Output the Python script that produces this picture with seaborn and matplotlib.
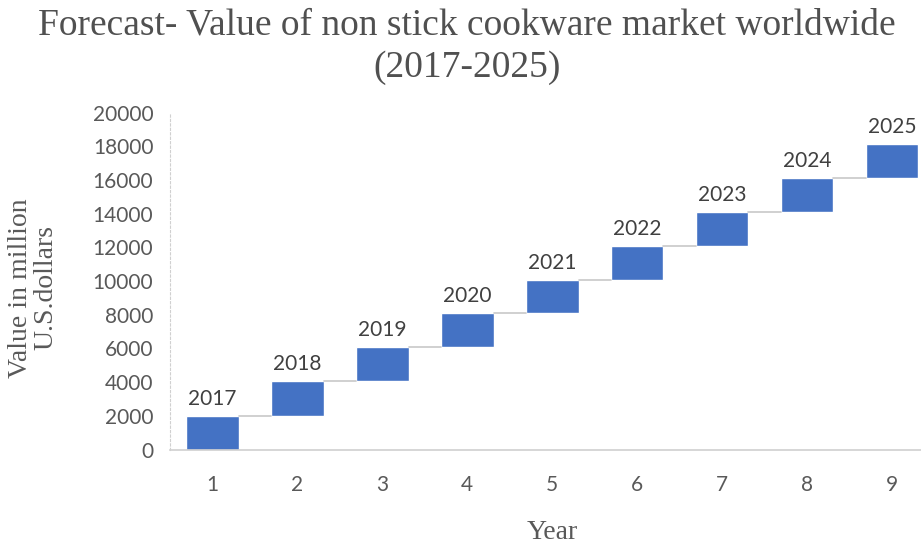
import seaborn as sns
import matplotlib.pyplot as plt
import pandas as pd

# values (million US$), waterfall style
steps = ['1', '2', '3', '4', '5', '6', '7', '8', '9']
years = ['2017', '2018', '2019', '2020', '2021', '2022', '2023', '2024', '2025']
market_value = [2000, 4050, 6070, 8100, 10080, 12100, 14100, 16100, 18150]

bottoms = [0] + market_value[:-1]
df = pd.DataFrame({'step': steps, 'top': market_value, 'bottom': bottoms})
df['height'] = df['top'] - df['bottom']

sns.set_style('white')
plt.rcParams['font.family'] = ['Lato', 'DejaVu Sans']

fig = plt.figure(figsize=(9.21, 5.45), dpi=100)
ax = fig.add_axes([0.1846, 0.1752, 0.830, 0.6183])

bar_w = 0.62
sns.barplot(data=df, x='step', y='height', bottom=df['bottom'].values,
            color='#4472C4', saturation=1, width=bar_w, ax=ax)

# connector lines between bars
for i in range(len(df) - 1):
    ax.plot([i + bar_w / 2, i + 1 - bar_w / 2], [df['top'][i], df['top'][i]],
            color='#c8c8c8', lw=1.2, zorder=1)

ax.bar_label(ax.containers[0], labels=years, padding=5,
             fontsize=15, color='#404040')

ax.set_xlim(-0.5, 8.5)
ax.set_ylim(0, 20000)
ax.set_yticks(range(0, 20001, 2000))
ax.tick_params(axis='both', length=0, labelsize=15, colors='#595959')
ax.tick_params(axis='y', pad=12)
ax.tick_params(axis='x', pad=18)

for s in ['top', 'right']:
    ax.spines[s].set_visible(False)
ax.spines['left'].set_color('#d0d0d0')
ax.spines['left'].set_linestyle((0, (2, 2)))
ax.spines['bottom'].set_color('#d0d0d0')
ax.spines['bottom'].set_linewidth(1.2)

serif = ['Liberation Serif', 'DejaVu Serif']
ax.set_ylabel('')
ax.set_xlabel('Year', family=serif, fontsize=20, color='#595959', labelpad=18)
fig.text(33 / 921, 1 - 288 / 545, 'Value in million\nU.S.dollars', family=serif,
         fontsize=20, color='#595959', rotation=90, ha='center', va='center',
         linespacing=1.05)
fig.text(0.507, 0.985, 'Forecast- Value of non stick cookware market worldwide\n(2017-2025)',
         family=serif, fontsize=27, color='#505050', ha='center', va='top',
         linespacing=1.3)

fig.savefig('out.png', dpi=100)
